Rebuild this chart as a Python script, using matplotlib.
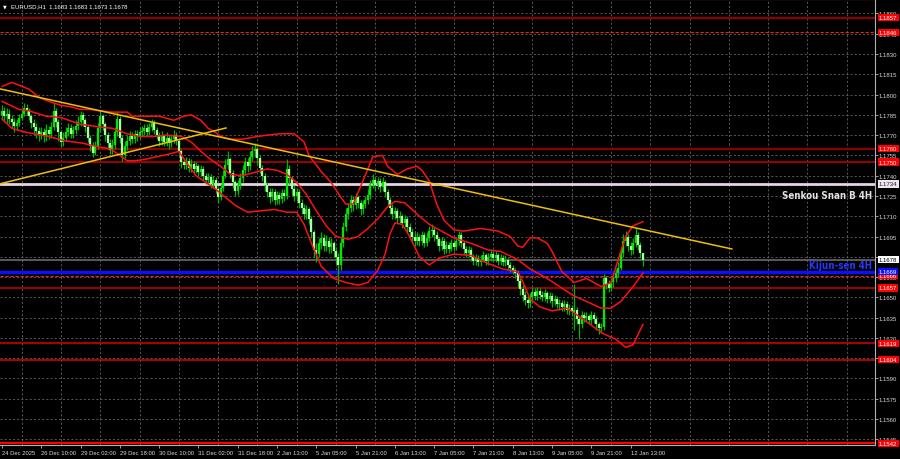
import numpy as np
import matplotlib
matplotlib.use("Agg")
import matplotlib.pyplot as plt
from matplotlib import font_manager
from matplotlib.font_manager import FontProperties

# ---------------- data ----------------
first_open = 1.1785
closes = [
    1.1788, 1.1784, 1.1786, 1.1782, 1.1780, 1.1777, 1.1779, 1.1783, 1.1786, 1.1790,
    1.1788, 1.1784, 1.1779, 1.1776, 1.1773, 1.1770, 1.1772, 1.1769, 1.1774, 1.1771,
    1.1776, 1.1788, 1.1780, 1.1772, 1.1765, 1.1768, 1.1772, 1.1775, 1.1771, 1.1774,
    1.1777, 1.1780, 1.1785, 1.1781, 1.1776, 1.1768, 1.1762, 1.1757, 1.1762, 1.1775,
    1.1784, 1.1778, 1.1770, 1.1764, 1.1759, 1.1763, 1.1772, 1.1782, 1.1768, 1.1755,
    1.1762, 1.1766, 1.1769, 1.1767, 1.1771, 1.1769, 1.1772, 1.1773, 1.1775, 1.1772,
    1.1776, 1.1779, 1.1774, 1.1770, 1.1766, 1.1769, 1.1765, 1.1768, 1.1764, 1.1767,
    1.1770, 1.1766, 1.1758, 1.1750, 1.1748, 1.1751, 1.1746, 1.1749, 1.1745, 1.1747,
    1.1743, 1.1745, 1.1740, 1.1737, 1.1739, 1.1734, 1.1737, 1.1730, 1.1724, 1.1731,
    1.1740, 1.1748, 1.1752, 1.1742, 1.1735, 1.1729, 1.1733, 1.1738, 1.1744, 1.1750,
    1.1747, 1.1754, 1.1758, 1.1760, 1.1753, 1.1746, 1.1740, 1.1733, 1.1728, 1.1724,
    1.1728, 1.1722, 1.1726, 1.1723, 1.1727, 1.1725, 1.1745, 1.1738, 1.1730, 1.1725,
    1.1728, 1.1720, 1.1716, 1.1712, 1.1715, 1.1708, 1.1698, 1.1685, 1.1682, 1.1690,
    1.1694, 1.1688, 1.1692, 1.1687, 1.1690, 1.1684, 1.1680, 1.1674, 1.1690, 1.1702,
    1.1712, 1.1716, 1.1722, 1.1718, 1.1724, 1.1720, 1.1715, 1.1719, 1.1722, 1.1726,
    1.1734, 1.1737, 1.1733, 1.1736, 1.1732, 1.1735, 1.1728, 1.1722, 1.1716, 1.1712,
    1.1714, 1.1709, 1.1710, 1.1705, 1.1708, 1.1702, 1.1698, 1.1695, 1.1692, 1.1695,
    1.1692, 1.1696, 1.1690, 1.1694, 1.1699, 1.1700, 1.1696, 1.1693, 1.1688, 1.1692,
    1.1686, 1.1689, 1.1686, 1.1690, 1.1687, 1.1692, 1.1696, 1.1690, 1.1686, 1.1683,
    1.1685, 1.1680, 1.1677, 1.1679, 1.1676, 1.1678, 1.1681, 1.1677, 1.1680, 1.1682,
    1.1679, 1.1681, 1.1677, 1.1679, 1.1676, 1.1678, 1.1674, 1.1672, 1.1670, 1.1668,
    1.1662, 1.1656, 1.1652, 1.1648, 1.1646, 1.1650, 1.1654, 1.1651, 1.1655, 1.1652,
    1.1650, 1.1653, 1.1649, 1.1651, 1.1647, 1.1649, 1.1645, 1.1646, 1.1643, 1.1645,
    1.1641, 1.1642, 1.1639, 1.1641, 1.1634, 1.1630, 1.1637, 1.1635, 1.1636, 1.1633,
    1.1637, 1.1634, 1.1630, 1.1627, 1.1628, 1.1664, 1.1660, 1.1657, 1.1661, 1.1664,
    1.1668, 1.1672, 1.1683, 1.1692, 1.1695, 1.1688, 1.1685, 1.1690, 1.1696, 1.1689,
    1.1683, 1.1678,
]
highs = [
    1.1792, 1.1791, 1.1790, 1.1789, 1.1785, 1.1783, 1.1782, 1.1786, 1.1790, 1.1794,
    1.1793, 1.1790, 1.1786, 1.1782, 1.1779, 1.1776, 1.1776, 1.1775, 1.1778, 1.1777,
    1.1780, 1.1794, 1.1790, 1.1782, 1.1774, 1.1772, 1.1776, 1.1779, 1.1778, 1.1777,
    1.1781, 1.1784, 1.1788, 1.1787, 1.1783, 1.1778, 1.1770, 1.1765, 1.1766, 1.1779,
    1.1788, 1.1786, 1.1780, 1.1772, 1.1767, 1.1767, 1.1776, 1.1788, 1.1784, 1.1770,
    1.1766, 1.1770, 1.1773, 1.1772, 1.1774, 1.1774, 1.1776, 1.1777, 1.1778, 1.1778,
    1.1779, 1.1782, 1.1781, 1.1776, 1.1772, 1.1773, 1.1771, 1.1772, 1.1770, 1.1771,
    1.1774, 1.1772, 1.1768, 1.1760, 1.1753, 1.1754, 1.1753, 1.1752, 1.1751, 1.1750,
    1.1749, 1.1748, 1.1747, 1.1742, 1.1742, 1.1741, 1.1740, 1.1739, 1.1732, 1.1734,
    1.1744, 1.1752, 1.1758, 1.1754, 1.1744, 1.1737, 1.1737, 1.1742, 1.1748, 1.1754,
    1.1753, 1.1758, 1.1762, 1.1764, 1.1762, 1.1755, 1.1748, 1.1742, 1.1735, 1.1731,
    1.1731, 1.1730, 1.1729, 1.1728, 1.1730, 1.1730, 1.1752, 1.1748, 1.1740, 1.1733,
    1.1731, 1.1730, 1.1723, 1.1719, 1.1718, 1.1717, 1.1710, 1.1700, 1.1690, 1.1694,
    1.1698, 1.1697, 1.1696, 1.1695, 1.1694, 1.1692, 1.1687, 1.1683, 1.1694, 1.1706,
    1.1716, 1.1720, 1.1726, 1.1725, 1.1727, 1.1726, 1.1722, 1.1722, 1.1725, 1.1730,
    1.1737, 1.1741, 1.1739, 1.1739, 1.1738, 1.1739, 1.1737, 1.1730, 1.1724, 1.1719,
    1.1717, 1.1716, 1.1714, 1.1712, 1.1711, 1.1710, 1.1705, 1.1701, 1.1698, 1.1698,
    1.1697, 1.1699, 1.1698, 1.1698, 1.1703, 1.1704, 1.1702, 1.1699, 1.1695, 1.1695,
    1.1694, 1.1692, 1.1691, 1.1693, 1.1692, 1.1695, 1.1699, 1.1698, 1.1692, 1.1688,
    1.1688, 1.1687, 1.1682, 1.1682, 1.1681, 1.1681, 1.1684, 1.1683, 1.1683, 1.1686,
    1.1684, 1.1684, 1.1683, 1.1682, 1.1681, 1.1681, 1.1680, 1.1676, 1.1674, 1.1672,
    1.1670, 1.1664, 1.1659, 1.1655, 1.1651, 1.1653, 1.1658, 1.1657, 1.1658, 1.1657,
    1.1655, 1.1656, 1.1655, 1.1654, 1.1653, 1.1652, 1.1651, 1.1649, 1.1648, 1.1648,
    1.1647, 1.1645, 1.1644, 1.1660, 1.1643, 1.1636, 1.1640, 1.1639, 1.1639, 1.1638,
    1.1640, 1.1639, 1.1636, 1.1632, 1.1631, 1.1667, 1.1666, 1.1663, 1.1664, 1.1667,
    1.1671, 1.1676, 1.1687, 1.1697, 1.1699, 1.1697, 1.1691, 1.1694, 1.1701, 1.1698,
    1.1691, 1.1683,
]
lows = [
    1.1781, 1.1780, 1.1779, 1.1778, 1.1775, 1.1772, 1.1774, 1.1777, 1.1781, 1.1784,
    1.1785, 1.1781, 1.1775, 1.1771, 1.1768, 1.1766, 1.1767, 1.1765, 1.1766, 1.1767,
    1.1768, 1.1774, 1.1776, 1.1766, 1.1761, 1.1762, 1.1766, 1.1769, 1.1768, 1.1768,
    1.1771, 1.1774, 1.1777, 1.1777, 1.1772, 1.1765, 1.1758, 1.1754, 1.1755, 1.1760,
    1.1772, 1.1774, 1.1766, 1.1760, 1.1756, 1.1756, 1.1760, 1.1769, 1.1764, 1.1751,
    1.1753, 1.1759, 1.1763, 1.1764, 1.1764, 1.1766, 1.1767, 1.1769, 1.1770, 1.1769,
    1.1770, 1.1773, 1.1771, 1.1767, 1.1762, 1.1763, 1.1762, 1.1762, 1.1760, 1.1761,
    1.1764, 1.1763, 1.1755, 1.1746, 1.1745, 1.1745, 1.1743, 1.1743, 1.1742, 1.1742,
    1.1740, 1.1740, 1.1737, 1.1734, 1.1734, 1.1731, 1.1731, 1.1727, 1.1720, 1.1722,
    1.1729, 1.1738, 1.1745, 1.1738, 1.1731, 1.1725, 1.1726, 1.1730, 1.1735, 1.1741,
    1.1743, 1.1744, 1.1751, 1.1754, 1.1749, 1.1742, 1.1736, 1.1729, 1.1724, 1.1720,
    1.1721, 1.1718, 1.1719, 1.1719, 1.1720, 1.1721, 1.1723, 1.1734, 1.1726, 1.1721,
    1.1721, 1.1716, 1.1712, 1.1708, 1.1708, 1.1704, 1.1694, 1.1680, 1.1676, 1.1680,
    1.1686, 1.1684, 1.1684, 1.1683, 1.1683, 1.1680, 1.1675, 1.1660, 1.1670, 1.1687,
    1.1699, 1.1708, 1.1713, 1.1714, 1.1715, 1.1716, 1.1711, 1.1712, 1.1716, 1.1719,
    1.1723, 1.1731, 1.1729, 1.1730, 1.1728, 1.1729, 1.1724, 1.1718, 1.1712, 1.1708,
    1.1708, 1.1705, 1.1705, 1.1701, 1.1702, 1.1698, 1.1694, 1.1691, 1.1688, 1.1689,
    1.1688, 1.1689, 1.1687, 1.1688, 1.1692, 1.1695, 1.1692, 1.1689, 1.1684, 1.1685,
    1.1682, 1.1683, 1.1683, 1.1684, 1.1684, 1.1685, 1.1689, 1.1687, 1.1682, 1.1680,
    1.1680, 1.1677, 1.1674, 1.1674, 1.1673, 1.1673, 1.1676, 1.1674, 1.1674, 1.1677,
    1.1676, 1.1676, 1.1674, 1.1674, 1.1673, 1.1673, 1.1671, 1.1669, 1.1667, 1.1664,
    1.1658, 1.1652, 1.1647, 1.1644, 1.1642, 1.1643, 1.1647, 1.1648, 1.1648, 1.1649,
    1.1647, 1.1647, 1.1646, 1.1646, 1.1643, 1.1644, 1.1642, 1.1641, 1.1640, 1.1640,
    1.1638, 1.1637, 1.1636, 1.1626, 1.1630, 1.1619, 1.1627, 1.1632, 1.1632, 1.1630,
    1.1630, 1.1631, 1.1626, 1.1623, 1.1624, 1.1626, 1.1656, 1.1654, 1.1655, 1.1658,
    1.1661, 1.1665, 1.1670, 1.1680, 1.1688, 1.1684, 1.1681, 1.1682, 1.1687, 1.1685,
    1.1679, 1.1673,
]

# Bollinger bands (values read at given bar numbers)
upper_bars = [0, 4, 11, 15, 19, 24, 28, 32, 36, 40, 45, 51, 53, 59, 64, 70, 74, 77, 81, 84,
              87, 89, 93, 98, 104, 108, 113, 119, 123, 125, 130, 134, 138, 140, 143, 146, 149,
              151, 155, 157, 161, 165, 169, 171, 174, 177, 180, 184, 188, 195, 202, 207, 210,
              212, 215, 218, 222, 224, 228, 233, 238, 244, 248, 252, 254, 257, 261]
upper_vals = [1.1806, 1.1809, 1.1804, 1.1798, 1.1795, 1.1792, 1.1791, 1.1789, 1.1789, 1.1788,
              1.1787, 1.1787, 1.1784, 1.1784, 1.1784, 1.1781, 1.1784, 1.1785, 1.1781, 1.1775,
              1.1772, 1.1769, 1.1767, 1.1767, 1.1769, 1.1770, 1.1771, 1.1771, 1.1765, 1.1755,
              1.1743, 1.1735, 1.1724, 1.1719, 1.1719, 1.1732, 1.1745, 1.1754, 1.1755, 1.1747,
              1.1741, 1.1745, 1.1747, 1.1744, 1.1736, 1.1719, 1.1707, 1.1700, 1.1699, 1.1701,
              1.1699, 1.1695, 1.1688, 1.1687, 1.1694, 1.1694, 1.1690, 1.1684, 1.1669, 1.1661,
              1.1664, 1.1658, 1.1661, 1.1684, 1.1695, 1.1703, 1.1706]
middle_bars = [0, 7, 11, 18, 24, 32, 40, 45, 51, 56, 62, 67, 73, 77, 81, 85, 89, 93, 98, 104,
               108, 112, 116, 120, 124, 128, 132, 136, 141, 145, 149, 153, 157, 160, 164, 167,
               170, 174, 178, 184, 191, 198, 203, 210, 215, 222, 227, 233, 238, 244, 248, 252,
               257, 261]
middle_vals = [1.1795, 1.1789, 1.1788, 1.1784, 1.1783, 1.1778, 1.1776, 1.1775, 1.1771, 1.1769,
               1.1769, 1.1770, 1.1769, 1.1765, 1.1758, 1.1752, 1.1747, 1.1741, 1.1740, 1.1743,
               1.1745, 1.1744, 1.1741, 1.1735, 1.1726, 1.1714, 1.1703, 1.1695, 1.1693, 1.1695,
               1.1701, 1.1708, 1.1717, 1.1721, 1.1720, 1.1715, 1.1710, 1.1704, 1.1700, 1.1694,
               1.1690, 1.1685, 1.1684, 1.1678, 1.1671, 1.1664, 1.1658, 1.1651, 1.1647, 1.1642,
               1.1642, 1.1647, 1.1658, 1.1668]
lower_bars = [0, 4, 10, 19, 25, 33, 40, 44, 48, 51, 54, 58, 63, 68, 72, 75, 79, 83, 87, 91,
              95, 100, 105, 111, 116, 120, 123, 126, 130, 135, 140, 145, 149, 153, 156, 158,
              160, 163, 166, 170, 174, 178, 184, 191, 198, 204, 210, 212, 215, 219, 224, 230,
              235, 241, 245, 250, 254, 257, 261]
lower_vals = [1.1782, 1.1775, 1.1772, 1.1769, 1.1766, 1.1764, 1.1761, 1.1760, 1.1755, 1.1751,
              1.1751, 1.1752, 1.1754, 1.1756, 1.1758, 1.1750, 1.1740, 1.1735, 1.1730, 1.1724,
              1.1718, 1.1713, 1.1714, 1.1715, 1.1713, 1.1713, 1.1704, 1.1690, 1.1673, 1.1664,
              1.1661, 1.1659, 1.1661, 1.1670, 1.1682, 1.1697, 1.1705, 1.1704, 1.1695, 1.1680,
              1.1674, 1.1679, 1.1682, 1.1681, 1.1675, 1.1671, 1.1669, 1.1662, 1.1649, 1.1643,
              1.1640, 1.1642, 1.1636, 1.1628, 1.1623, 1.1619, 1.1613, 1.1615, 1.1630]

# trend lines: (bar, price) end points
trend_down_bars = [-0.8, 297.2]
trend_down_prices = [1.18042, 1.16858]
trend_up_bars = [-0.8, 91.2]
trend_up_prices = [1.1734, 1.17753]

# horizontal levels
red_levels = [1.1857, 1.1846, 1.1760, 1.1750, 1.1666, 1.1657, 1.1616, 1.1604, 1.1542]
red_level_labels = ["1.1857", "1.1846", "1.1760", "1.1750", "1.1666", "1.1657", "1.1619",
                    "1.1604", "1.1542"]
senkou_level = 1.1734
kijun_level = 1.1669
last_price = 1.1678

price_ticks = [1.1545, 1.1560, 1.1575, 1.1590, 1.1605, 1.1620, 1.1635, 1.1650, 1.1665, 1.1680,
               1.1695, 1.1710, 1.1725, 1.1740, 1.1755, 1.1770, 1.1785, 1.1800, 1.1815, 1.1830,
               1.1845, 1.1860]
time_labels = ["24 Dec 2025", "26 Dec 10:00", "29 Dec 02:00", "29 Dec 18:00", "30 Dec 10:00",
               "31 Dec 02:00", "31 Dec 18:00", "2 Jan 13:00", "5 Jan 05:00", "5 Jan 21:00",
               "6 Jan 13:00", "7 Jan 05:00", "7 Jan 21:00", "8 Jan 13:00", "9 Jan 05:00",
               "9 Jan 21:00", "12 Jan 13:00"]
title_text = "EURUSD,H1  1.1683 1.1683 1.1673 1.1678"

# ---------------- fonts ----------------
entries = font_manager.fontManager.ttflist
names = {f.name for f in entries}
small_font = "Liberation Sans" if "Liberation Sans" in names else "DejaVu Sans"


def _bold(f):
    w = f.weight
    if isinstance(w, str):
        return w.lower() in ("bold", "heavy", "black", "extra bold", "semibold", "demibold")
    return w >= 600


def _cond(f):
    s = f.stretch
    if isinstance(s, str):
        return "condensed" in s.lower() or "narrow" in s.lower()
    return s < 500


label_prop = None
for f in entries:
    if f.name == "Liberation Sans Narrow" and _bold(f) and f.style == "normal":
        label_prop = FontProperties(fname=f.fname, size=8.0)
        break
if label_prop is None:
    for f in entries:
        if _cond(f) and _bold(f) and f.style == "normal":
            label_prop = FontProperties(fname=f.fname, size=7.0)
            break
if label_prop is None:
    label_prop = FontProperties(family=small_font, weight="bold", size=6.9)

# ---------------- figure ----------------
W, H = 900, 460
fig = plt.figure(figsize=(W / 100, H / 100), dpi=100, facecolor="black")
ax = fig.add_axes([0.0, 14 / H, 875 / W, 446 / H])
ax.set_facecolor("black")

bars_per_label = 16
ax.set_xlim(-0.81, 355.5)
ax.set_ylim(1.15408, 1.18707)

# grid
for p in price_ticks:
    ax.axhline(p, color="#646464", lw=0.6, ls=(0, (2.5, 2.5)), zorder=0)
for k in range(23):
    ax.axvline(bars_per_label // 2 + k * bars_per_label, color="#646464", lw=0.6,
               ls=(0, (2.5, 2.5)), zorder=0)

# levels
lvl_style = {
    1.1857: dict(color="#8c0000", lw=1.6, ls="-"),
    1.1846: dict(color="#ff1a1a", lw=0.8, ls=(0, (3, 1.5))),
    1.1760: dict(color="#8c0000", lw=1.6, ls="-"),
    1.1750: dict(color="#a00000", lw=1.4, ls="-"),
    1.1666: dict(color="#ff1a1a", lw=0.8, ls=(0, (3, 1.5))),
    1.1657: dict(color="#a00000", lw=1.4, ls="-"),
    1.1616: dict(color="#e00000", lw=1.1, ls="-"),
    1.1604: dict(color="#e00000", lw=1.1, ls="-"),
    1.1542: dict(color="#ff0000", lw=1.6, ls="-"),
}
for p in red_levels:
    ax.axhline(p, zorder=1, **lvl_style[p])
ax.axhline(senkou_level, color="#e8d4e4", lw=2.0, zorder=1)
ax.axhline(kijun_level, color="#0a10ff", lw=2.4, zorder=1)
ax.axhline(last_price, color="#6a6a6a", lw=1.2, zorder=1)

# candles
n = len(closes)
xs = np.arange(n)
c = np.array(closes)
o = np.concatenate([[first_open], c[:-1]])
hi = np.array(highs)
lo = np.array(lows)
ax.vlines(xs, lo, hi, color="#00b400", lw=0.9, zorder=3)
bull = c >= o
ax.vlines(xs[bull], o[bull], c[bull], color="#00e800", lw=1.6, zorder=4)
ax.vlines(xs[~bull], c[~bull], o[~bull], color="#a8ffa0", lw=1.6, zorder=4)

# bollinger bands
for bx, bv in [(upper_bars, upper_vals), (middle_bars, middle_vals), (lower_bars, lower_vals)]:
    ax.plot(bx, bv, color="#ff1010", lw=1.1, zorder=5, solid_joinstyle="round")

# trend lines
ax.plot(trend_down_bars, trend_down_prices, color="#f0c000", lw=1.1, zorder=6)
ax.plot(trend_up_bars, trend_up_prices, color="#f0c000", lw=1.1, zorder=6)

# labels on the lines
ax.annotate("Senkou Snan B 4H", xy=(0.997, senkou_level), xycoords=("axes fraction", "data"),
            xytext=(0, -11), textcoords="offset pixels", ha="right", va="center",
            fontproperties=label_prop, color="#e2e2e2", zorder=8)
ax.annotate("Kijun-sen 4H", xy=(0.997, kijun_level), xycoords=("axes fraction", "data"),
            xytext=(0, 7), textcoords="offset pixels", ha="right", va="center",
            fontproperties=label_prop, color="#2a36ff", zorder=8)

# axes / ticks
for s in ax.spines.values():
    s.set_color("#b0b0b0")
    s.set_linewidth(0.8)
ax.spines["left"].set_visible(False)
ax.yaxis.tick_right()
ax.set_yticks(price_ticks)
ax.set_yticklabels([f"{p:.4f}" for p in price_ticks])
ax.tick_params(axis="y", colors="#b8b8b8", labelcolor="#d8d8d8", labelsize=4.3, length=2,
               width=0.6, pad=0.4)
for t in ax.get_yticklabels():
    t.set_family(small_font)
label_pos = [k * bars_per_label for k in range(len(time_labels))]
ax.set_xticks(label_pos)
ax.set_xticklabels(time_labels, ha="left")
ax.tick_params(axis="x", colors="#b8b8b8", labelcolor="#d8d8d8", labelsize=4.2, length=2.5,
               width=0.6, pad=1.2)
for t in ax.get_xticklabels():
    t.set_family(small_font)

# price boxes on the right
tr = ax.get_yaxis_transform()


def box(p, txt, fc, tc):
    ax.text(1.0045, p, txt, transform=tr, ha="left", va="center", fontsize=4.3, color=tc,
            family=small_font, clip_on=False, zorder=20,
            bbox=dict(boxstyle="square,pad=0.2", fc=fc, ec="none"))


for p, lab in zip(red_levels, red_level_labels):
    box(p, lab, "#ff0000", "white")
box(senkou_level, f"{senkou_level:.4f}", "#f0e4ee", "#202020")
box(kijun_level, f"{kijun_level:.4f}", "#0a10ff", "white")
box(last_price, f"{last_price:.4f}", "white", "black")

# title
fig.text(3 / W, 1 - 6.5 / H, "\u25bc", color="white", fontsize=3.5, va="center", ha="left")
fig.text(11 / W, 1 - 6.5 / H, title_text, color="white", fontsize=4.3, va="center", ha="left",
         family=small_font)

fig.savefig("out.png", dpi=100, facecolor="black")
